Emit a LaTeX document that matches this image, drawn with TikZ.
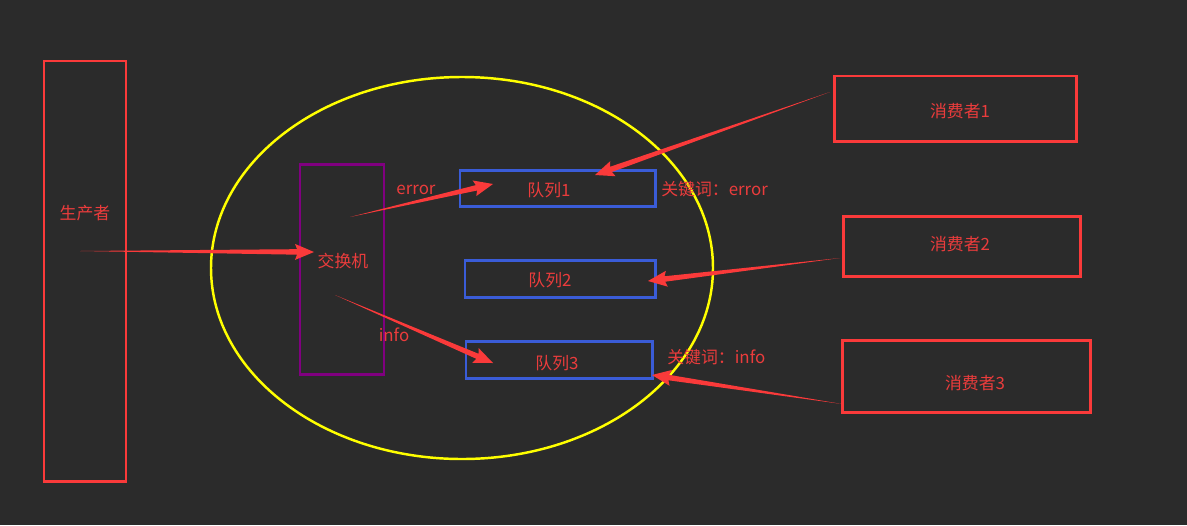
\documentclass[tikz,border=0pt]{standalone}
\usepackage{fontspec}
\setmainfont{Noto Sans CJK SC}
\usetikzlibrary{calc}
\definecolor{bg}{RGB}{43,43,43}
\definecolor{redline}{RGB}{250,58,58}
\definecolor{redtext}{RGB}{235,60,60}
\definecolor{queueblue}{RGB}{58,92,215}
\definecolor{exchpurple}{RGB}{128,0,128}
\definecolor{ringyellow}{RGB}{255,255,0}
% tapered red arrow from #1 to #2
\newcommand\penarrow[2]{%
  \coordinate (hb) at ($(#2)!0.34cm!(#1)$);
  \coordinate (hw) at ($(#2)!0.38cm!(#1)$);
  \fill[redline] (#1) -- ($(hb)!0.055cm!90:(#2)$) -- ($(hw)!0.16cm!90:(#2)$) -- (#2)
    -- ($(hw)!0.16cm!-90:(#2)$) -- ($(hb)!0.055cm!-90:(#2)$) -- cycle;}
\begin{document}
\begin{tikzpicture}[x=0.02cm, y=-0.02cm,
  every node/.style={font=\fontsize{9.6}{11}\selectfont, text=redtext},
  redbox/.style={draw=redline, line width=1.7pt},
  queuebox/.style={draw=queueblue, line width=1.7pt},
  exchbox/.style={draw=exchpurple, line width=1.7pt}]
\fill[bg] (0,0) rectangle (1187,525);
\useasboundingbox (0,0) rectangle (1187,525);

\draw[ringyellow, line width=1.4pt] (462,268) ellipse [x radius=251, y radius=191];

\draw[redbox] (44,61) rectangle (126,481);
\node (prod) at (85,213) {生产者};

\draw[exchbox] (300,164) rectangle (384,374);
\node (ex) at (343,261) {交换机};

\draw[queuebox] (460,170) rectangle (655,206);
\node (q1) at (549,190) {队列1};
\draw[queuebox] (465,260) rectangle (655,297);
\node (q2) at (550,280) {队列2};
\draw[queuebox] (466,341) rectangle (652,378);
\node (q3) at (557,363) {队列3};

\node (err) at (416,190) {error};
\node (inf) at (394,335) {info};
\node[anchor=west, inner sep=0pt] (k1) at (661,189) {关键词：error};
\node[anchor=west, inner sep=0pt] (k2) at (667,357) {关键词：info};

\draw[redbox] (834,76) rectangle (1076,141);
\node (c1) at (960,111) {消费者1};
\draw[redbox] (843,216) rectangle (1080,276);
\node (c2) at (960,244) {消费者2};
\draw[redbox] (842,340) rectangle (1090,412);
\node (c3) at (975,383) {消费者3};

\coordinate (pt) at (80,251);
\coordinate (eh) at (314,252);
\coordinate (et1) at (350,217);
\coordinate (q1h) at (493,184);
\coordinate (et3) at (335,295);
\coordinate (q3h) at (493,363);
\coordinate (c1t) at (830,92);
\coordinate (q1r) at (595,175);
\coordinate (c2t) at (840,258);
\coordinate (q2r) at (648,281);
\coordinate (c3t) at (842,404);
\coordinate (q3r) at (652,375);

\penarrow{pt}{eh}
\penarrow{et1}{q1h}
\penarrow{et3}{q3h}
\penarrow{c1t}{q1r}
\penarrow{c2t}{q2r}
\penarrow{c3t}{q3r}
\end{tikzpicture}
\end{document}
